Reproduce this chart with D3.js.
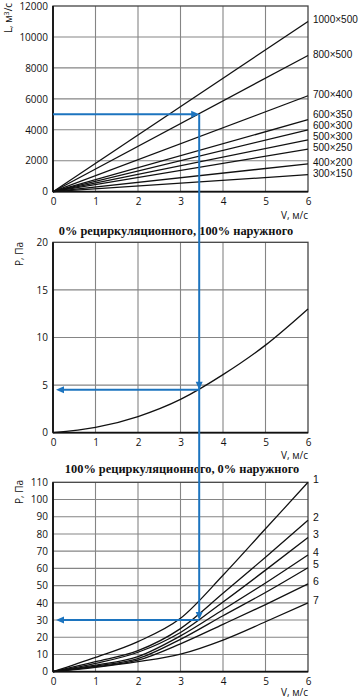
<!DOCTYPE html>
<html><head><meta charset="utf-8">
<script src="https://cdn.jsdelivr.net/npm/d3@7"></script>
<style>
html,body{margin:0;padding:0;background:#fff;}
svg{display:block;}
text{font-family:"Open Sans","Noto Sans",sans-serif;fill:#111;}
.title{font-family:"Liberation Serif",serif;font-weight:bold;}
.lab{font-family:"Liberation Sans",sans-serif;}
</style></head><body>
<svg id="c" width="361" height="700"></svg>
<script>
// ---------- data ----------
const vTicks = [0,1,2,3,4,5,6];
const topTicks = [0,2000,4000,6000,8000,10000,12000];
const midTicks = [0,5,10,15,20];
const botTicks = [0,10,20,30,40,50,60,70,80,90,100,110];

const ductSizes = ["1000×500","800×500","700×400","600×350","600×300","500×300","500×250","400×200","300×150"];
const flowAtV0 = [0,0,0,0,0,0,0,0,0];
const flowAtV6 = [11000,8800,6200,4650,4000,3350,2750,1800,1100];

const midV = [0,1,2,3,4,5,6];
const midP = [0,0.55,1.7,3.5,6.1,9.2,13];

const botV = [0,1,2,3,4,5,6];
const botNames = ["1","2","3","4","5","6","7"];
const bot1 = [0,8.3,17.5,31,56,83,110];
const bot2 = [0,5.8,12.2,25,45.5,66.5,88];
const bot3 = [0,4.8,11.3,22.8,40.5,59,78];
const bot4 = [0,3.8,8.8,20.8,36,51.5,67.8];
const bot5 = [0,3.3,7.6,18.8,32.5,46,60.4];
const bot6 = [0,2.9,6.7,16.2,27.5,39,51];
const bot7 = [0,2.5,5.8,10.2,18.4,29,40];

const arrowV = 3.44, arrowL = 5000, arrowP1 = 4.5, arrowP2 = 30;

const title1 = "0% рециркуляционного, 100% наружного";
const title2 = "100% рециркуляционного, 0% наружного";

// ---------- layout ----------
const svg = d3.select("#c");
const X0 = 53, X1 = 308;
const x = d3.scaleLinear().domain([0,6]).range([X0,X1]);
const yTop = d3.scaleLinear().domain([0,12000]).range([191.7,6]);
const yMid = d3.scaleLinear().domain([0,20]).range([432.7,242.3]);
const yBot = d3.scaleLinear().domain([0,110]).range([671.7,482.3]);
const blue = "#1c74bf";

function panel(y, yt, ylx, yly, vOff) {
  const g = svg.append("g");
  g.selectAll(".gx").data(vTicks.slice(1,-1)).join("line")
    .attr("x1",d=>x(d)).attr("x2",d=>x(d)).attr("y1",y.range()[0]).attr("y2",y.range()[1])
    .attr("stroke","#858585").attr("stroke-width",1.1);
  g.selectAll(".gy").data(yt.slice(1,-1)).join("line")
    .attr("x1",X0).attr("x2",X1).attr("y1",d=>y(d)).attr("y2",d=>y(d))
    .attr("stroke","#858585").attr("stroke-width",1.1);
  g.append("rect").attr("x",X0).attr("y",y.range()[1]).attr("width",X1-X0)
    .attr("height",y.range()[0]-y.range()[1]).attr("fill","none").attr("stroke","#444").attr("stroke-width",1.3);
  g.append("line").attr("x1",X0).attr("x2",X0).attr("y1",y.range()[0]).attr("y2",y.range()[1]).attr("stroke","#111").attr("stroke-width",1.8);
  g.append("line").attr("x1",X0).attr("x2",X1).attr("y1",y.range()[0]).attr("y2",y.range()[0]).attr("stroke","#111").attr("stroke-width",1.8);
  const ya = d3.axisLeft(y).tickValues(yt).tickSize(0).tickPadding(5).tickFormat(d3.format("d"));
  const yg = g.append("g").attr("transform",`translate(${X0},0)`).call(ya);
  yg.select(".domain").remove();
  yg.selectAll("text").attr("font-size",10).attr("font-family",null);
  const xa = d3.axisBottom(x).tickValues(vTicks).tickSize(0).tickPadding(6).tickFormat(d3.format("d"));
  const xg = g.append("g").attr("transform",`translate(0,${y.range()[0]})`).call(xa);
  xg.select(".domain").remove();
  xg.selectAll("text").attr("font-size",10).attr("font-family",null);
  g.append("text").attr("x",X1).attr("y",y.range()[0]+vOff).attr("text-anchor","end").attr("font-size",10).text("V, м/с");
  const yl = g.append("text").attr("transform",`translate(${ylx},${yly}) rotate(-90)`).attr("text-anchor","middle").attr("font-size",10);
  return {g, yl};
}

const p1 = panel(yTop, topTicks, 12, 18, 27);
p1.yl.html('L, м<tspan dy="-3" font-size="7">3</tspan><tspan dy="3">/с</tspan>');
const p2 = panel(yMid, midTicks, 23, 254, 26);
p2.yl.text("P, Па");
const p3 = panel(yBot, botTicks, 23, 492, 24.5);
p3.yl.text("P, Па");

svg.append("text").attr("class","title").attr("x",176).attr("y",235).attr("text-anchor","middle").attr("font-size",12.4).text(title1);
svg.append("text").attr("class","title").attr("x",182).attr("y",473).attr("text-anchor","middle").attr("font-size",12.4).text(title2);

// top lines
const lineTop = d3.line().x(d=>x(d[0])).y(d=>yTop(d[1]));
ductSizes.forEach((n,i)=>{
  svg.append("path").attr("d",lineTop([[0,flowAtV0[i]],[6,flowAtV6[i]]])).attr("fill","none").attr("stroke","#111").attr("stroke-width",1.3);
});
function spread(ys, gap){
  const out = ys.slice();
  for(let i=out.length-2;i>=0;i--){ if(out[i] > out[i+1]-gap) out[i] = out[i+1]-gap; }
  return out;
}
const topLab = spread(flowAtV6.map(v=>yTop(v)-1.5), 11);
ductSizes.forEach((n,i)=>{
  svg.append("text").attr("class","lab").attr("x",313).attr("y",topLab[i]).attr("dy","0.35em").attr("font-size",10).text(n);
});

// middle curve
const lineMid = d3.line().x((d,i)=>x(midV[i])).y(d=>yMid(d)).curve(d3.curveMonotoneX);
svg.append("path").attr("d",lineMid(midP)).attr("fill","none").attr("stroke","#111").attr("stroke-width",1.3);

// bottom curves
const botSeries = [bot1,bot2,bot3,bot4,bot5,bot6,bot7];
const lineBot = d3.line().x((d,i)=>x(botV[i])).y(d=>yBot(d)).curve(d3.curveMonotoneX);
botSeries.forEach(s=>{
  svg.append("path").attr("d",lineBot(s)).attr("fill","none").attr("stroke","#111").attr("stroke-width",1.3);
});
const botLab = spread(botSeries.map(s=>yBot(s[s.length-1])-3), 11.5);
botNames.forEach((n,i)=>{
  svg.append("text").attr("class","lab").attr("x",313).attr("y",botLab[i]).attr("dy","0.35em").attr("font-size",10.5).text(n);
});

// blue arrows
const ax = x(arrowV);
function head(tx, ty, dir){
  const L=8, W=3.5;
  let pts;
  if(dir==='r') pts=[[tx,ty],[tx-L,ty-W],[tx-L,ty+W]];
  if(dir==='l') pts=[[tx,ty],[tx+L,ty-W],[tx+L,ty+W]];
  if(dir==='d') pts=[[tx,ty],[tx-W,ty-L],[tx+W,ty-L]];
  svg.append("path").attr("d","M"+pts.map(p=>p.join(",")).join("L")+"Z").attr("fill",blue);
}
const bl = (x1,y1,x2,y2)=>svg.append("line").attr("x1",x1).attr("y1",y1).attr("x2",x2).attr("y2",y2).attr("stroke",blue).attr("stroke-width",2);
const yA = yTop(arrowL), yB = yMid(arrowP1), yC = yBot(arrowP2);
bl(X0, yA, ax-6, yA); head(ax, yA, 'r');
bl(ax, yA, ax, yC-6);
head(ax, yB, 'd'); head(ax, yC, 'd');
bl(ax, yB, 60, yB); head(56, yB, 'l');
bl(ax, yC, 60, yC); head(56, yC, 'l');
</script></body></html>
